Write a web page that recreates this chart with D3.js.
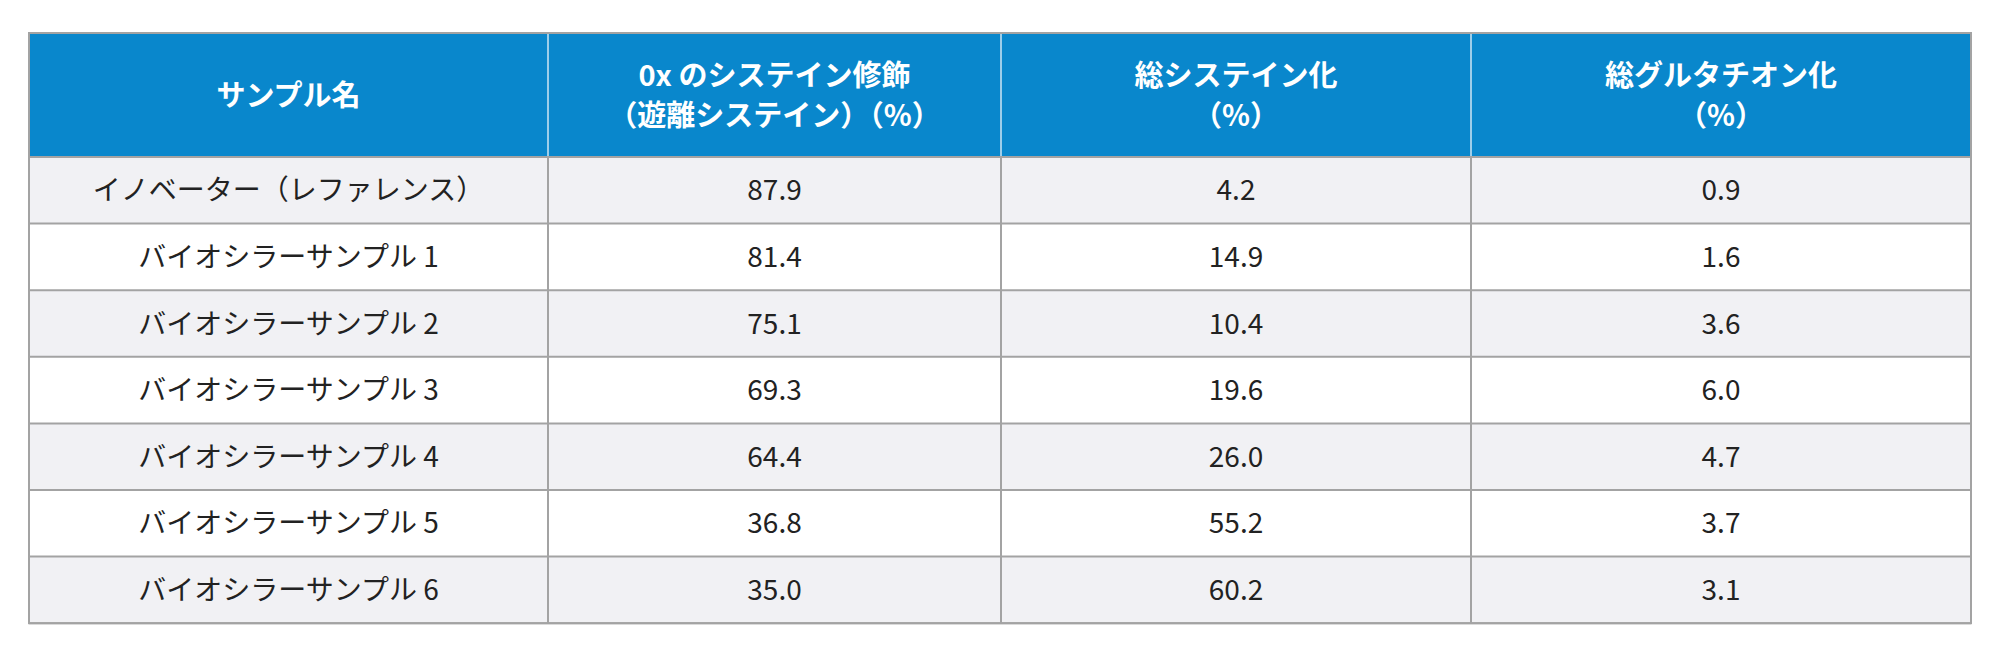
<!DOCTYPE html><html><head><meta charset="utf-8">
<script src="https://cdn.jsdelivr.net/npm/d3@7"></script>
<style>body{margin:0;background:#fff}</style></head><body><svg id="c" width="2000" height="664"></svg>
<script>
const headers=[["サンプル名"],["0x のシステイン修飾","（遊離システイン）（%）"],["総システイン化","（%）"],["総グルタチオン化","（%）"]];
const samples=["イノベーター（レファレンス）","バイオシラーサンプル 1","バイオシラーサンプル 2","バイオシラーサンプル 3","バイオシラーサンプル 4","バイオシラーサンプル 5","バイオシラーサンプル 6"];
const freeCys=[87.9,81.4,75.1,69.3,64.4,36.8,35.0];
const totalCys=[4.2,14.9,10.4,19.6,26.0,55.2,60.2];
const totalGlu=[0.9,1.6,3.6,6.0,4.7,3.7,3.1];
(function(){
const svg=d3.select("#c");
const xs=[29,548,1001,1471,1971];
const y0=33,headH=124,rowH=66.6;
const font="'Noto Sans CJK JP','Noto Sans',sans-serif";
svg.append("rect").attr("x",xs[0]).attr("y",y0).attr("width",xs[4]-xs[0]).attr("height",headH).attr("fill","#0987cc");
const rows=samples.map((s,i)=>[s,freeCys[i].toFixed(1),totalCys[i].toFixed(1),totalGlu[i].toFixed(1)]);
rows.forEach((r,i)=>{
  const y=y0+headH+i*rowH;
  svg.append("rect").attr("x",xs[0]).attr("y",y).attr("width",xs[4]-xs[0]).attr("height",rowH).attr("fill",i%2?"#ffffff":"#f1f1f4");
  r.forEach((t,j)=>svg.append("text").attr("x",(xs[j]+xs[j+1])/2).attr("y",y+rowH/2+10).attr("text-anchor","middle")
    .attr("font-family",font).attr("font-size",28).attr("fill","#222").text(t));
});
headers.forEach((h,j)=>{
  const cx=(xs[j]+xs[j+1])/2, cy=y0+headH/2;
  h.forEach((t,k)=>svg.append("text").attr("x",cx).attr("y",cy+11+(k-(h.length-1)/2)*40).attr("text-anchor","middle")
    .attr("font-family",font).attr("font-weight","bold").attr("font-size",29).attr("fill","#fff").text(t));
});
for(let j=1;j<4;j++) svg.append("line").attr("x1",xs[j]).attr("x2",xs[j]).attr("y1",y0).attr("y2",y0+headH).attr("stroke","#cfe6f5").attr("stroke-width",1.5);
for(let j=0;j<5;j++) svg.append("line").attr("x1",xs[j]).attr("x2",xs[j]).attr("y1",y0+headH).attr("y2",y0+headH+7*rowH).attr("stroke","#a3a3a3").attr("stroke-width",2);
for(let i=0;i<=7;i++) svg.append("line").attr("x1",xs[0]).attr("x2",xs[4]).attr("y1",y0+headH+i*rowH).attr("y2",y0+headH+i*rowH).attr("stroke","#a3a3a3").attr("stroke-width",2);
svg.append("rect").attr("x",xs[0]).attr("y",y0).attr("width",xs[4]-xs[0]).attr("height",headH+7*rowH).attr("fill","none").attr("stroke","#a3a3a3").attr("stroke-width",2);
})();
</script></body></html>
